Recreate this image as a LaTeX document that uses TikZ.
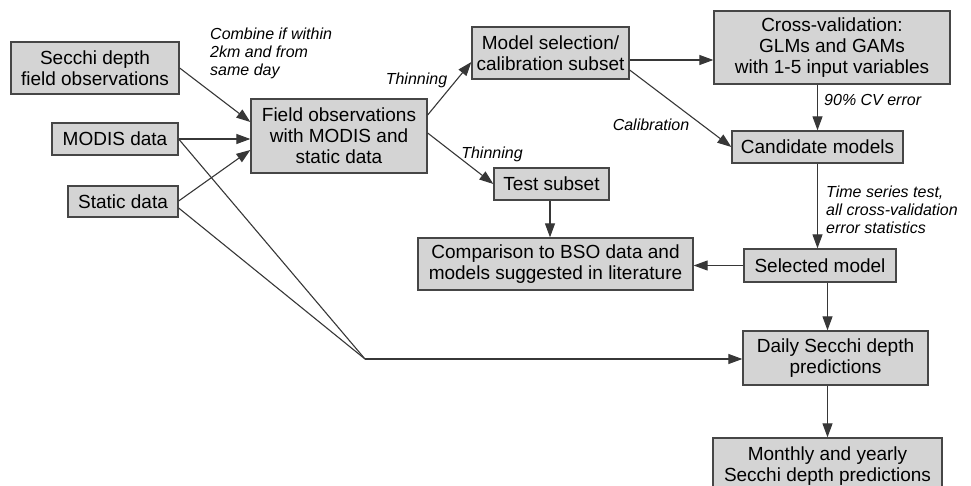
\documentclass[tikz,border=0pt]{standalone}
\usepackage{fontspec}
\setmainfont{Liberation Sans}
\usetikzlibrary{arrows.meta,calc}
\definecolor{boxfill}{RGB}{212,212,212}
\definecolor{boxline}{RGB}{70,70,70}
\definecolor{conn}{RGB}{55,55,55}
\tikzset{
  stepbox/.style={draw=boxline, line width=1.3pt, fill=boxfill, rectangle, inner sep=0pt,
    align=center, font=\fontsize{19}{21}\selectfont, text=black},
  conn/.style={draw=conn, line width=1.1pt},
  arr/.style={conn, -{Triangle[length=14pt,width=10pt]}},
  lbl/.style={font=\fontsize{16}{18}\selectfont\itshape, inner sep=0pt, text=black},
}
\begin{document}
\begin{tikzpicture}[x=1pt,y=-1pt]
\useasboundingbox (0,0) rectangle (971,486);
\node[stepbox, minimum width=168pt, minimum height=52pt] (secchi) at (95,68) {Secchi depth\\field observations};
\node[stepbox, minimum width=126pt, minimum height=32pt] (modis) at (115,139) {MODIS data};
\node[stepbox, minimum width=110pt, minimum height=31pt] (static) at (123,201.5) {Static data};
\node[stepbox, minimum width=176pt, minimum height=74pt] (field) at (339,136) {Field observations\\with MODIS and\\static data};
\node[stepbox, minimum width=157pt, minimum height=52pt] (modelsel) at (550.5,53) {Model selection/\\calibration subset};
\node[stepbox, minimum width=236pt, minimum height=73pt] (cv) at (832,47.5) {Cross-validation:\\GLMs and GAMs\\with 1-5 input variables};
\node[stepbox, minimum width=171pt, minimum height=32pt] (cand) at (817.5,147) {Candidate models};
\node[stepbox, minimum width=115pt, minimum height=32pt] (test) at (551.5,184) {Test subset};
\node[stepbox, minimum width=275pt, minimum height=52pt] (comp) at (555.5,264) {Comparison to BSO data and\\models suggested in literature};
\node[stepbox, minimum width=152pt, minimum height=33pt] (sel) at (820,265.5) {Selected model};
\node[stepbox, minimum width=185pt, minimum height=54pt] (daily) at (835.5,358) {Daily Secchi depth\\predictions};
\node[stepbox, minimum width=229pt, minimum height=56pt] (monthly) at (827.5,466) {Monthly and yearly\\Secchi depth predictions};

\coordinate (j) at (365,359);

% labels
\node[lbl, anchor=west, align=left] (combine) at (210,53) {Combine if within\\2km and from\\same day};
\node[lbl] (thin1) at (416.5,80) {Thinning};
\node[lbl] (thin2) at (492,154) {Thinning};
\node[lbl] (calib) at (651,125) {Calibration};
\node[lbl, anchor=west] (cverr) at (824,100) {90\% CV error};
\node[lbl, anchor=west, align=left] (tstest) at (826,210) {Time series test,\\all cross-validation\\error statistics};

% connectors
\draw[arr] (secchi.east) -- ([yshift=14pt]field.west);
\draw[arr] (modis.east) -- (modis.east -| field.west);
\draw[arr] ([yshift=0.5pt]static.east) -- ([yshift=-14pt]field.west);
\draw[conn] (modis.east) -- (j);
\draw[conn] ([yshift=-6.5pt]static.east) -- (j);
\draw[arr] (j) -- (j -| daily.west);
\draw[arr] ([yshift=21pt]field.east) -- ([yshift=-9pt]modelsel.west);
\draw[arr] ([yshift=3pt]field.east) -- (test.west);
\draw[arr] ([yshift=-7pt]modelsel.east) -- ([yshift=-7pt]modelsel.east -| cv.west);
\draw[arr] ([yshift=-17pt]modelsel.east) -- (cand.west);
\draw[arr] (cand.north |- cv.south) -- (cand.north);
\draw[arr] (cand.south) -- (cand.south |- sel.north);
\draw[arr] ([xshift=-1.5pt]test.south) -- ([xshift=-1.5pt]test.south |- comp.north);
\draw[arr] (sel.west) -- (sel.west -| comp.east);
\draw[arr] (sel.south -| monthly.north) -- (daily.north -| monthly.north);
\draw[arr] (daily.south -| monthly.north) -- (monthly.north);
\end{tikzpicture}
\end{document}
